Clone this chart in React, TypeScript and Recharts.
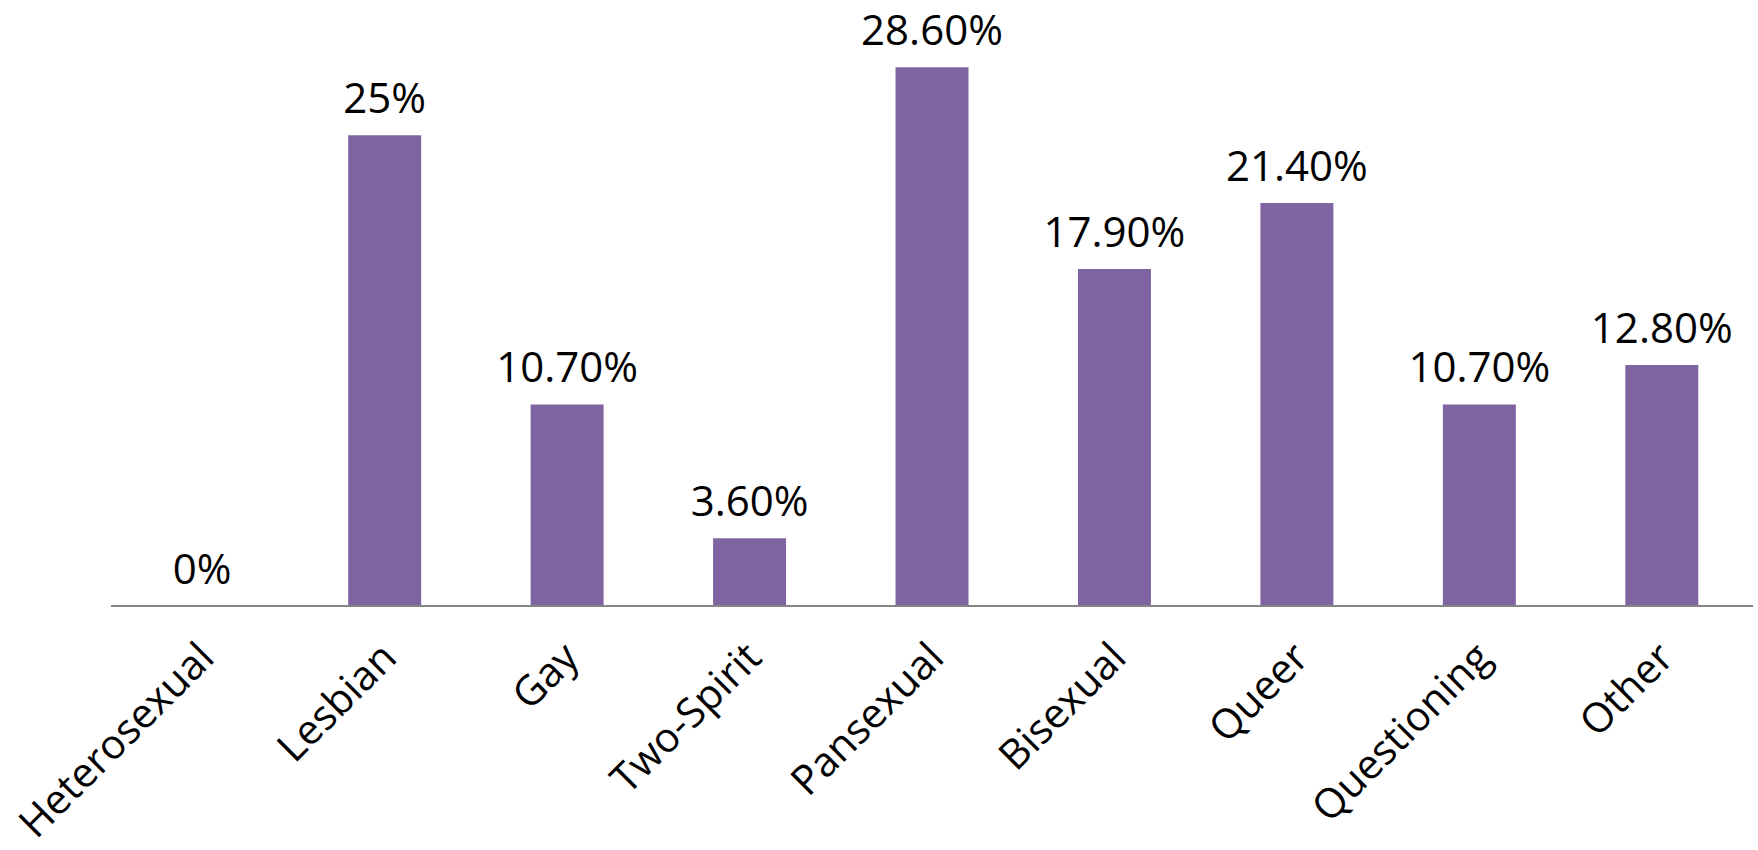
import { Bar, ComposedChart, LabelList, Line, XAxis, YAxis } from "recharts";

const categories = [
  "Heterosexual",
  "Lesbian",
  "Gay",
  "Two-Spirit",
  "Pansexual",
  "Bisexual",
  "Queer",
  "Questioning",
  "Other",
];
const percents = [0, 25, 10.7, 3.6, 28.6, 17.9, 21.4, 10.7, 12.8];
const valueLabels = [
  "0%",
  "25%",
  "10.70%",
  "3.60%",
  "28.60%",
  "17.90%",
  "21.40%",
  "10.70%",
  "12.80%",
];

const data = categories.map((name, i) => ({
  name,
  value: percents[i],
  label: valueLabels[i],
}));

const FONT = "'Open Sans', 'Noto Sans', sans-serif";

/* Excel-style slanted labels: right end sits just right of the category centre */
const SlantTick = ({ x, y, payload }: any) => {
  const ax = x + 14;
  const ay = y + 54;
  return (
    <text
      x={ax}
      y={ay}
      textAnchor="end"
      fill="#000"
      fontSize={41}
      fontFamily={FONT}
      transform={`rotate(-45 ${ax} ${ay})`}
    >
      {payload.value}
    </text>
  );
};

const App = () => (
  <div style={{ position: "absolute", left: 0, top: 0, background: "#fff" }}>
    <ComposedChart
      width={1758}
      height={850}
      data={data}
      margin={{ top: 41, right: 5, bottom: 0, left: 111 }}
      barCategoryGap="30%"
    >
      <XAxis
        dataKey="name"
        height={244}
        interval={0}
        tickLine={false}
        tickSize={0}
        tickMargin={0}
        axisLine={{ stroke: "#868686", strokeWidth: 2 }}
        tick={<SlantTick />}
      />
      <YAxis hide domain={[0, 30]} />
      <Bar dataKey="value" fill="#8064A2" isAnimationActive={false} />
      {/* invisible carrier so the 0% label shows too */}
      <Line
        dataKey="value"
        stroke="none"
        dot={false}
        activeDot={false}
        legendType="none"
        isAnimationActive={false}
      >
        <LabelList
          dataKey="label"
          position="top"
          offset={22}
          fill="#000"
          fontSize={42}
          fontFamily={FONT}
        />
      </Line>
    </ComposedChart>
  </div>
);

export default App;
